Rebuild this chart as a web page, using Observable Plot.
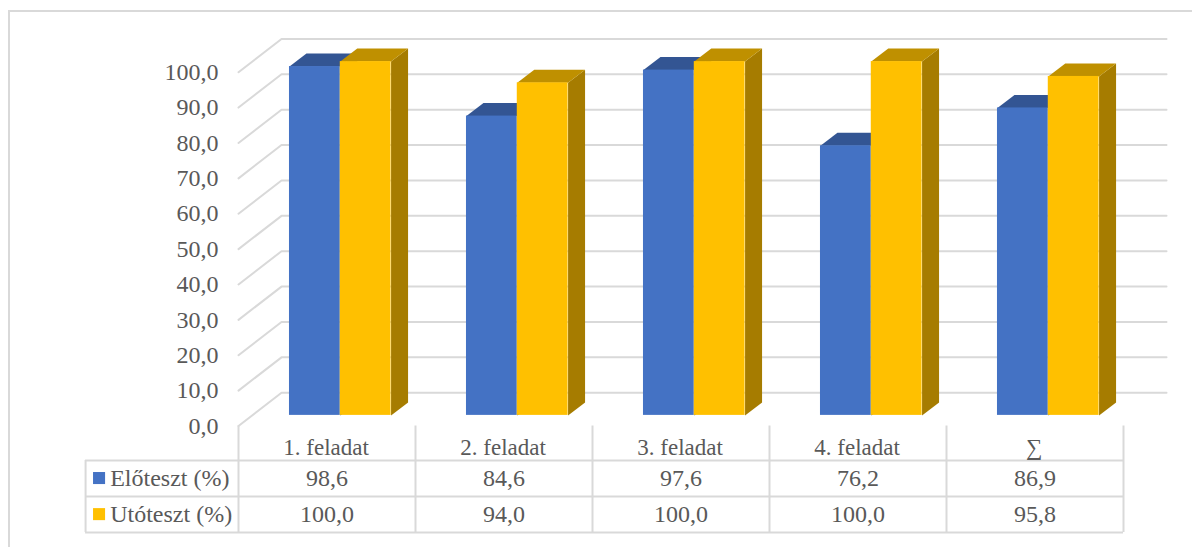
<!DOCTYPE html>
<html lang="hu">
<head>
<meta charset="utf-8">
<script src="https://cdn.jsdelivr.net/npm/d3@7"></script>
<script src="https://cdn.jsdelivr.net/npm/@observablehq/plot@0.6"></script>
<style>
html,body{margin:0;padding:0;background:#fff;width:1192px;height:547px;overflow:hidden}
#box{position:absolute;left:8px;top:10px;width:1400px;height:800px;border:2px solid #d9d9d9;box-sizing:border-box}
#chart{position:absolute;left:0;top:0}
svg{display:block}
</style>
</head>
<body>
<div id="box"></div>
<div id="chart"></div>
<script>
const categories = ["1. feladat", "2. feladat", "3. feladat", "4. feladat", "∑"];
const seriesNames = ["Előteszt (%)", "Utóteszt (%)"];
const elotesztValues = [98.6, 84.6, 97.6, 76.2, 86.9];
const utotesztValues = [100.0, 94.0, 100.0, 100.0, 95.8];
const yTicks = [0, 10, 20, 30, 40, 50, 60, 70, 80, 90, 100];

const comma = v => v.toFixed(1).replace(".", ",");
const ink = "#595959", gridColor = "#d9d9d9", fontSize = 24;

// 3D projection in data units
const wallDx = 0.243, wallDy = 9.4, barDx = 0.096, barDy = 3.67, barLift = 3;
const tableLeft = -0.864, rowLines = [-9.75, -19.93, -30.1];
const headerY = -6.2, rowY = [-14.85, -25.05];

const series = [
  {name: seriesNames[0], values: elotesztValues, x1: 0.288, x2: 0.575, front: "#4472c4", top: "#335593", side: "#2b4a80"},
  {name: seriesNames[1], values: utotesztValues, x1: 0.575, x2: 0.862, front: "#ffc000", top: "#bf9000", side: "#a67c00"}
];

const gridPts = yTicks.flatMap(t => [
  {t, x: 0, y: t},
  {t, x: wallDx, y: t + wallDy},
  {t, x: 5 + wallDx, y: t + wallDy}
]);

function faces(s) {
  const side = [], top = [], front = [];
  s.values.forEach((v, i) => {
    const a = i + s.x1, b = i + s.x2, h = v + barLift;
    side.push(
      {id: i, x: b, y: barLift}, {id: i, x: b + barDx, y: barLift + barDy},
      {id: i, x: b + barDx, y: h + barDy}, {id: i, x: b, y: h});
    top.push(
      {id: i, x: a, y: h}, {id: i, x: b, y: h},
      {id: i, x: b + barDx, y: h + barDy}, {id: i, x: a + barDx, y: h + barDy});
    front.push({x1: a, x2: b, y1: barLift, y2: h});
  });
  return {side, top, front};
}

const barMarks = series.flatMap(s => {
  const f = faces(s);
  return [
    Plot.line(f.side, {x: "x", y: "y", z: "id", fill: s.side, stroke: "none"}),
    Plot.line(f.top, {x: "x", y: "y", z: "id", fill: s.top, stroke: "none"}),
    Plot.rect(f.front, {x1: "x1", x2: "x2", y1: "y1", y2: "y2", fill: s.front})
  ];
});

const txt = {fontSize, fill: ink, stroke: "none"};

const plot = Plot.plot({
  width: 1192, height: 547,
  marginLeft: 238, marginRight: 69, marginTop: 71.7, marginBottom: 121.5,
  style: {fontFamily: "'Liberation Serif', serif", background: "transparent", overflow: "visible"},
  x: {domain: [0, 5], axis: null},
  y: {domain: [0, 100], axis: null},
  marks: [
    Plot.line(gridPts, {x: "x", y: "y", z: "t", stroke: gridColor, strokeWidth: 2}),
    Plot.axisY(yTicks, {tickSize: 0, tickPadding: 20, tickFormat: comma, label: null, fontSize, fill: ink}),
    ...barMarks,
    // table rules
    Plot.ruleY(rowLines, {x1: tableLeft, x2: 5, stroke: gridColor, strokeWidth: 2}),
    Plot.ruleX(d3.range(0, 6), {y1: 0, y2: rowLines[2], stroke: gridColor, strokeWidth: 2}),
    Plot.ruleX([tableLeft], {y1: rowLines[0], y2: rowLines[2], stroke: gridColor, strokeWidth: 2}),
    // table text
    Plot.text(categories, {x: (d, i) => i + 0.495, y: () => headerY, text: d => d, ...txt, fontSize: 23}),
    ...series.map((s, r) => Plot.text(s.values, {x: (d, i) => i + 0.5, y: () => rowY[r], text: comma, ...txt})),
    // legend keys
    Plot.rect(series, {
      x1: () => -0.819, x2: () => -0.751,
      y1: (d, i) => rowY[i] - 1.7, y2: (d, i) => rowY[i] + 1.7,
      fill: d => d.front
    }),
    Plot.text(series, {x: () => -0.725, y: (d, i) => rowY[i], text: d => d.name, textAnchor: "start", ...txt})
  ]
});
document.getElementById("chart").appendChild(plot);
</script>
</body>
</html>
